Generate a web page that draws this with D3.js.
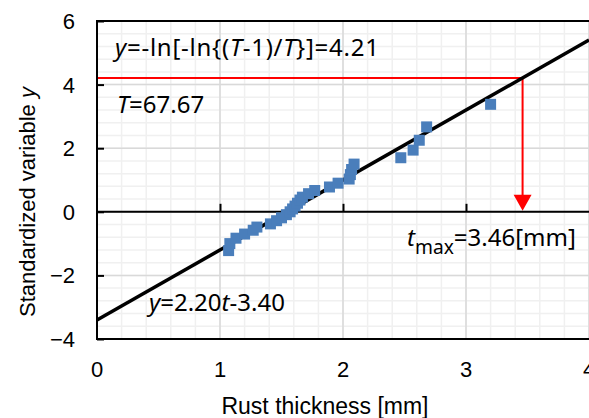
<!DOCTYPE html>
<html>
<head>
<meta charset="utf-8">
<script src="https://cdn.jsdelivr.net/npm/d3@7"></script>
<style>
  body { margin: 0; background: #fff; }
  svg { display: block; }
</style>
</head>
<body>
<div id="chart"></div>
<script>
// rust thickness t [mm] vs standardized variable y (Gumbel plot)
var thickness = [1.07, 1.08, 1.13, 1.20, 1.27, 1.30, 1.41, 1.46, 1.50, 1.54,
                 1.57, 1.59, 1.61, 1.63, 1.65, 1.67, 1.72, 1.77, 1.89, 1.96,
                 2.05, 2.06, 2.07, 2.09, 2.47, 2.57, 2.62, 2.68, 3.20];
var yVar = [-1.22, -1.00, -0.83, -0.70, -0.58, -0.48, -0.38, -0.28, -0.19, -0.09,
            0.00, 0.09, 0.18, 0.27, 0.37, 0.46, 0.57, 0.67, 0.78, 0.90,
            1.03, 1.17, 1.33, 1.50, 1.70, 1.94, 2.25, 2.67, 3.38];
var xTicks = [0, 1, 2, 3, 4];
var yTicks = [-4, -2, 0, 2, 4, 6];
var slope = 2.20, intercept = -3.40;
var yT = 4.21, returnT = 67.67, tmax = 3.46;

var W = 589, H = 418;
var margin = {top: 21, right: 0, bottom: 79, left: 97};
var width = W - margin.left - margin.right,
    height = H - margin.top - margin.bottom;

var svg = d3.select("#chart").append("svg")
    .attr("width", W).attr("height", H)
    .style("background", "#fff");

var x = d3.scaleLinear().domain([0, 4]).range([margin.left, margin.left + width]);
var y = d3.scaleLinear().domain([-4, 6]).range([margin.top + height, margin.top]);

// minor gridlines
var g = svg.append("g");
g.selectAll(".vminor").data(d3.range(0, 4.01, 0.2)).enter().append("line")
  .attr("x1", d => x(d)).attr("x2", d => x(d))
  .attr("y1", y(6)).attr("y2", y(-4))
  .attr("stroke", "#f0f0f0").attr("stroke-width", 1.5);
g.selectAll(".hminor").data(d3.range(-4, 6.01, 0.4)).enter().append("line")
  .attr("x1", x(0)).attr("x2", x(4))
  .attr("y1", d => y(d)).attr("y2", d => y(d))
  .attr("stroke", "#f0f0f0").attr("stroke-width", 1.5);
// major gridlines
g.selectAll(".vmajor").data(xTicks).enter().append("line")
  .attr("x1", d => x(d)).attr("x2", d => x(d))
  .attr("y1", y(6)).attr("y2", y(-4))
  .attr("stroke", "#d9d9d9").attr("stroke-width", 1.5);
g.selectAll(".hmajor").data(yTicks).enter().append("line")
  .attr("x1", x(0)).attr("x2", x(4))
  .attr("y1", d => y(d)).attr("y2", d => y(d))
  .attr("stroke", "#d9d9d9").attr("stroke-width", 1.5);

// red guide lines
svg.append("path")
  .attr("d", "M" + x(0) + "," + y(yT) + "H" + x(tmax) + "V" + (y(0) - 16))
  .attr("fill", "none").attr("stroke", "#ff0000").attr("stroke-width", 2);
svg.append("path")
  .attr("d", "M" + (x(tmax) - 9) + "," + (y(0) - 17) + "L" + (x(tmax) + 9) + "," + (y(0) - 17) +
             "L" + x(tmax) + "," + (y(0) - 1) + "Z")
  .attr("fill", "#ff0000");

// frame
svg.append("path")
  .attr("d", "M" + (x(4) + 3) + "," + y(6) + "H" + x(0) + "V" + y(-4) + "H" + (x(4) + 3))
  .attr("fill", "none").attr("stroke", "#000").attr("stroke-width", 2);

// x axis at y = 0, ticks pointing up
var xAxis = d3.axisTop(x).tickValues([1, 2, 3]).tickSize(8).tickFormat("");
svg.append("g").attr("transform", "translate(0," + y(0) + ")").call(xAxis)
  .call(a => a.select(".domain").remove())
  .call(a => a.selectAll("line").attr("stroke", "#000").attr("stroke-width", 2));
svg.append("line")
  .attr("x1", x(0)).attr("x2", x(4) + 3)
  .attr("y1", y(0)).attr("y2", y(0))
  .attr("stroke", "#000").attr("stroke-width", 2);

// y axis ticks pointing inward
var yAxis = d3.axisRight(y).tickValues(yTicks).tickSize(7).tickFormat("");
svg.append("g").attr("transform", "translate(" + x(0) + ",0)").call(yAxis)
  .call(a => a.select(".domain").remove())
  .call(a => a.selectAll("line").attr("stroke", "#000").attr("stroke-width", 2));

// tick labels
var labelFont = "'Liberation Sans', Arial, sans-serif";
svg.selectAll(".ylab").data(yTicks).enter().append("text")
  .attr("x", 75).attr("y", d => y(d))
  .attr("dy", "0.36em").attr("text-anchor", "end")
  .attr("font-family", labelFont).attr("font-size", 22)
  .text(d => d < 0 ? "\u2212" + Math.abs(d) : d);
svg.selectAll(".xlab").data(xTicks).enter().append("text")
  .attr("x", d => x(d)).attr("y", 377)
  .attr("text-anchor", "middle")
  .attr("font-family", labelFont).attr("font-size", 22)
  .text(d => d);

// axis titles
svg.append("text")
  .attr("x", 325).attr("y", 414)
  .attr("text-anchor", "middle")
  .attr("font-family", labelFont).attr("font-size", 23)
  .text("Rust thickness [mm]");
var yt = svg.append("text")
  .attr("transform", "translate(35," + 202 + ") rotate(-90)")
  .attr("text-anchor", "middle")
  .attr("font-family", labelFont).attr("font-size", 22);
yt.append("tspan").text("Standardized variable ");
yt.append("tspan").attr("font-style", "italic").text("y");

// fitted line
svg.append("line")
  .attr("x1", x(0)).attr("y1", y(intercept))
  .attr("x2", x(4)).attr("y2", y(slope * 4 + intercept))
  .attr("stroke", "#000").attr("stroke-width", 3.5);

// data points
var pts = thickness.map((t, i) => ({t: t, y: yVar[i]}));
svg.selectAll(".pt").data(pts).enter().append("rect")
  .attr("x", d => x(d.t) - 5.5).attr("y", d => y(d.y) - 5.5)
  .attr("width", 11).attr("height", 11)
  .attr("fill", "#4a7ebb");

// annotations
var annFont = "'Noto Sans', 'Open Sans', sans-serif";
function ann(px, py, size, parts) {
  var t = svg.append("text").attr("x", px).attr("y", py)
    .attr("font-family", annFont).attr("font-size", size).attr("fill", "#000");
  parts.forEach(p => {
    var s = t.append("tspan").text(p[0]);
    if (p[1] === "i") s.attr("font-style", "italic");
    if (p[1] === "sub") s.attr("font-size", size * 0.8).attr("dy", 8);
    if (p[1] === "up") s.attr("dy", -8);
  });
  return t;
}
ann(115, 56, 24, [["y", "i"], ["=-ln[-ln{("], ["T", "i"], ["-1)/"], ["T", "i"], ["}]=" + yT.toFixed(2)]])
  .attr("letter-spacing", 0.75);
ann(117, 113, 24, [["T", "i"], ["=" + returnT.toFixed(2)]]);
ann(407, 246, 24, [["t", "i"], ["max", "sub"], ["=" + tmax.toFixed(2) + "[mm]", "up"]]);
ann(149, 311, 24, [["y", "i"], ["=" + slope.toFixed(2)], ["t", "i"], [intercept.toFixed(2)]]);
</script>
</body>
</html>
